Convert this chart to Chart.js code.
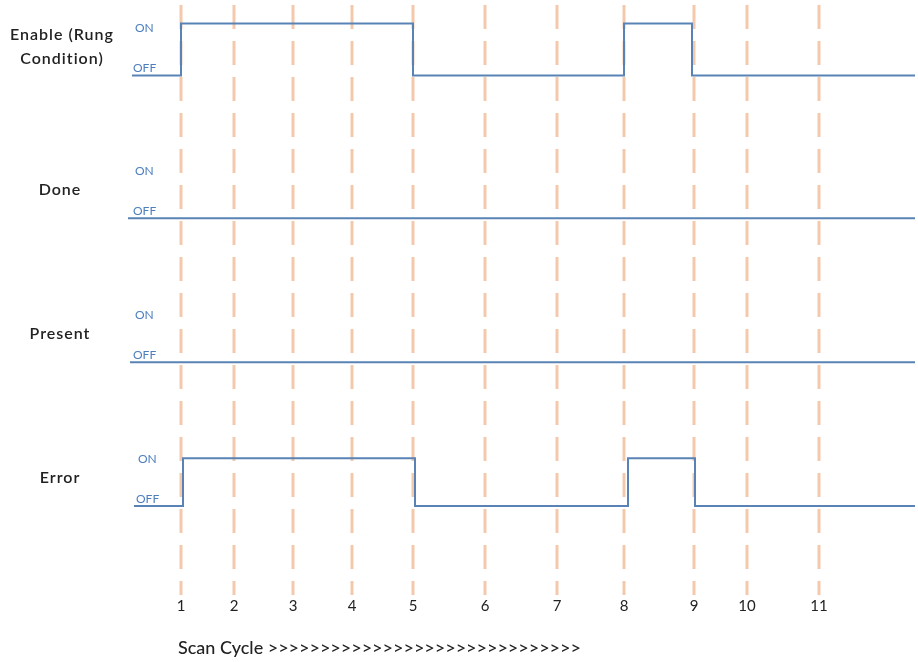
<!DOCTYPE html>
<html>
<head>
<meta charset="utf-8">
<script src="https://cdn.jsdelivr.net/npm/chart.js@4.4.0/dist/chart.umd.min.js"></script>
<style>
	html, body { margin: 0; padding: 0; background: #fff; }
	#wrap { width: 918px; height: 662px; }
</style>
</head>
<body>
<div id="wrap"><canvas id="timing"></canvas></div>
<script>
// scan cycles and where they fall on the time axis
var cycles = ['1', '2', '3', '4', '5', '6', '7', '8', '9', '10', '11'];
var cycleTimes = [53, 106, 165, 224, 285, 357, 429, 496, 566, 619, 691];

// signals: change times and the state (0 = OFF, 1 = ON) from that time on
var signalNames = [['Enable (Rung', 'Condition)'], ['Done'], ['Present'], ['Error']];
var enableTimes = [4, 53, 285, 496, 564, 787];
var enableState = [0, 1, 0, 1, 0, 0];
var doneTimes = [0, 787];
var doneState = [0, 0];
var presentTimes = [2, 787];
var presentState = [0, 0];
var errorTimes = [6, 55, 287, 500, 567, 787];
var errorState = [0, 1, 0, 1, 0, 0];

// each row sits on its own OFF level, ON is one unit above it
var rowBase = [8.38, 5.6, 2.8, 0];
var rowOn = [1.01, 1, 1, 0.93];
var levelText = ['ON', 'OFF'];

var Y_MIN = -1.73, Y_MAX = 9.75;
var T_MIN = 0, T_MAX = 787;

function signalData(times, state, row) {
	return times.map(function (t, i) {
		return { x: t, y: rowBase[row] + state[i] * rowOn[row] };
	});
}

var datasets = [];
var signals = [
	[enableTimes, enableState],
	[doneTimes, doneState],
	[presentTimes, presentState],
	[errorTimes, errorState]
];
signals.forEach(function (s, row) {
	datasets.push({
		label: signalNames[row].join(' '),
		data: signalData(s[0], s[1], row),
		stepped: true,
		borderColor: '#5a83b5',
		borderWidth: 2,
		pointRadius: 0,
		fill: false,
		order: 0
	});
});
cycleTimes.forEach(function (t, i) {
	datasets.push({
		label: 'cycle ' + cycles[i],
		data: [{ x: t, y: Y_MAX }, { x: t, y: Y_MIN }],
		borderColor: '#f4c9ab',
		borderWidth: 3,
		borderDash: [24, 12],
		pointRadius: 0,
		fill: false,
		order: 1
	});
});

// text: row names, ON/OFF levels, cycle numbers, footer
var labelsPlugin = {
	id: 'timingLabels',
	afterDraw: function (chart) {
		var ctx = chart.ctx;
		var xs = chart.scales.x, ys = chart.scales.y;
		var left = chart.chartArea.left;
		ctx.save();
		ctx.textBaseline = 'middle';

		signalNames.forEach(function (name, row) {
			var off = ys.getPixelForValue(rowBase[row]);
			// row name
			ctx.fillStyle = '#222';
			ctx.font = '600 16px Lato';
			ctx.letterSpacing = '1px';
			ctx.textAlign = 'center';
			if (name.length > 1) {
				ctx.fillText(name[0], 62, off - 41);
				ctx.fillText(name[1], 62, off - 17);
			} else {
				ctx.fillText(name[0], 60, off - 28);
			}
			ctx.letterSpacing = '0px';
			// ON / OFF
			var nudge = row === 3 ? 8 : 5;
			ctx.fillStyle = '#4d7fbf';
			ctx.font = '12px Lato';
			ctx.textAlign = 'left';
			ctx.fillText(levelText[0], left + nudge + 2, off - 47);
			ctx.fillText(levelText[1], left + nudge, off - 7);
		});

		// cycle numbers
		ctx.fillStyle = '#222';
		ctx.font = '15px Lato';
		ctx.textAlign = 'center';
		cycles.forEach(function (c, i) {
			ctx.fillText(c, xs.getPixelForValue(cycleTimes[i]), 606);
		});

		// footer
		ctx.font = '500 18px Lato';
		ctx.textAlign = 'left';
		ctx.fillText('Scan Cycle ' + '>'.repeat(30), 178, 648);
		ctx.restore();
	}
};

var chart = new Chart(document.getElementById('timing'), {
	type: 'line',
	data: { datasets: datasets },
	options: {
		responsive: true,
		maintainAspectRatio: false,
		animation: false,
		layout: { padding: { left: 128, right: 3, top: 5, bottom: 67 } },
		scales: {
			x: { type: 'linear', min: T_MIN, max: T_MAX, display: false },
			y: { type: 'linear', min: Y_MIN, max: Y_MAX, display: false }
		},
		plugins: {
			legend: { display: false },
			tooltip: { enabled: false }
		}
	},
	plugins: [labelsPlugin]
});
</script>
</body>
</html>
